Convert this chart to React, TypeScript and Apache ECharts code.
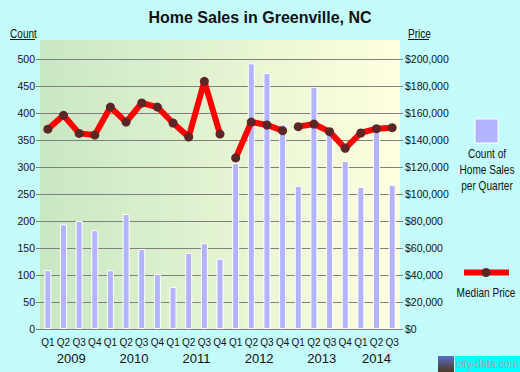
import React, { useEffect, useRef } from "react";
import * as echarts from "echarts";

const quarterLabels = [
  "Q1","Q2","Q3","Q4","Q1","Q2","Q3","Q4","Q1","Q2","Q3","Q4",
  "Q1","Q2","Q3","Q4","Q1","Q2","Q3","Q4","Q1","Q2","Q3",
];
const years = ["2009", "2010", "2011", "2012", "2013", "2014"];
const quartersPerYear = [4, 4, 4, 4, 4, 3];
const salesCount = [
  109, 194, 200, 183, 109, 213, 148, 102, 78, 141, 159, 130,
  307, 492, 474, 379, 265, 448, 362, 311, 263, 368, 267,
];
const medianPrice = [
  148000, 158300, 144900, 143700, 164400, 153300, 167400, 164400, 152600, 142200, 183500, 144400,
  126700, 153300, 151100, 146900, 149900, 151800, 146200, 133800, 145200, 148400, 149100,
];
// price line is broken between these index ranges [start, end)
const priceSegments = [
  [0, 12],
  [12, 16],
  [16, 23],
];
const countTicks = { min: 0, max: 500, interval: 50 };
const priceTicks = { min: 0, max: 200000, interval: 20000 };

const SANS = "'Liberation Sans',Arial,sans-serif";
const SX = 0.84;

function label(text: string, x: number, y: number, align: string = "left", size = 12) {
  return {
    type: "text",
    x,
    y,
    scaleX: SX,
    style: { text, fontSize: size, fontFamily: SANS, fill: "#111", textAlign: align, textVerticalAlign: "middle" },
  };
}

export default function App() {
  const ref = useRef<HTMLDivElement>(null);
  useEffect(() => {
    if (!ref.current) return;
    const chart = echarts.init(ref.current, undefined, { renderer: "svg" });

    // year axis slots: half-quarter positions, with labels at the middle of each year
    const slots: string[] = new Array(quarterLabels.length * 2 + 1).fill("");
    let start = 0;
    years.forEach((y, i) => {
      slots[2 * start + quartersPerYear[i]] = y;
      start += quartersPerYear[i];
    });

    const lineSeries = priceSegments.map(([s, e]) => ({
      type: "line",
      yAxisIndex: 1,
      xAxisIndex: 0,
      data: medianPrice.map((v, i) => (i >= s && i < e ? v : null)),
      connectNulls: false,
      symbol: "circle",
      symbolSize: 9,
      lineStyle: { color: "#FF0000", width: 6 },
      itemStyle: { color: "#5C2626" },
      z: 5,
    }));

    chart.setOption({
      animation: false,
      backgroundColor: "#C4FCFC",
      title: {
        text: "Home Sales in Greenville, NC",
        left: "center",
        top: 4,
        textStyle: { fontSize: 16, fontWeight: "bold", fontFamily: SANS, color: "#111" },
      },
      grid: { left: 40, top: 59, width: 360, height: 270 },
      xAxis: [
        {
          type: "category",
          data: quarterLabels,
          position: "bottom",
          axisLine: { lineStyle: { color: "#808080" } },
          axisTick: { length: 5, lineStyle: { color: "#808080" } },
          axisLabel: { interval: 0, fontSize: 10, color: "#111", margin: 8, fontFamily: SANS },
        },
        {
          type: "category",
          data: slots,
          boundaryGap: false,
          position: "bottom",
          offset: 0,
          axisLine: { show: false },
          axisTick: { show: false },
          splitLine: { show: false },
          axisLabel: { interval: 0, fontSize: 13, color: "#111", margin: 23, fontFamily: SANS },
        },
      ],
      yAxis: [
        {
          type: "value",
          ...countTicks,
          axisLine: { show: false },
          axisTick: { show: true, length: 4, lineStyle: { color: "#808080" } },
          splitLine: { lineStyle: { color: "#808080", width: 1 } },
          axisLabel: { fontSize: 10.5, color: "#111", margin: 5, fontFamily: SANS },
        },
        {
          type: "value",
          ...priceTicks,
          position: "right",
          axisLine: { show: false },
          axisTick: { show: true, length: 3, lineStyle: { color: "#808080" } },
          splitLine: { show: false },
          axisLabel: {
            fontSize: 10.5,
            color: "#111",
            margin: 5,
            fontFamily: SANS,
            formatter: (v: number) => "$" + v.toLocaleString("en-US"),
          },
        },
      ],
      series: [
        {
          type: "bar",
          data: salesCount,
          barWidth: 7,
          itemStyle: { color: "#B3B3FF", borderColor: "#FFFFFF", borderWidth: 1 },
          z: 2,
        },
        ...lineSeries,
      ],
      graphic: [
        {
          type: "rect",
          z: -100,
          silent: true,
          shape: { x: 40, y: 40, width: 360, height: 289 },
          style: {
            fill: new echarts.graphic.LinearGradient(0, 0, 1, 0, [
              { offset: 0, color: "#C8E8C2" },
              { offset: 1, color: "#FFFFE0" },
            ]),
          },
        },
        label("Count", 10, 34),
        { type: "line", shape: { x1: 10, y1: 39.5, x2: 35, y2: 39.5 }, style: { stroke: "#111", lineWidth: 1 } },
        label("Price", 408, 34),
        { type: "line", shape: { x1: 408, y1: 39.5, x2: 429, y2: 39.5 }, style: { stroke: "#111", lineWidth: 1 } },
        {
          type: "rect",
          shape: { x: 475, y: 119, width: 23, height: 24 },
          style: { fill: "#B3B3FF", stroke: "#FFFFFF", lineWidth: 1 },
        },
        label("Count of", 487, 154, "center"),
        label("Home Sales", 487, 170, "center"),
        label("per Quarter", 487, 186, "center"),
        { type: "line", shape: { x1: 464, y1: 272.5, x2: 509, y2: 272.5 }, style: { stroke: "#FF0000", lineWidth: 6 } },
        { type: "circle", shape: { cx: 486, cy: 272.5, r: 4.5 }, style: { fill: "#5C2626" } },
        label("Median Price", 486, 293, "center"),
        {
          type: "rect",
          shape: { x: 438, y: 356, width: 16, height: 16 },
          style: {
            fill: new echarts.graphic.LinearGradient(0, 0, 0, 1, [
              { offset: 0, color: "#5A6CC8" },
              { offset: 1, color: "#4A3A20" },
            ]),
          },
        },
        { type: "rect", shape: { x: 455, y: 356, width: 65, height: 16 }, style: { fill: "#00FFFF" } },
        {
          type: "text",
          x: 456,
          y: 364,
          scaleX: 0.88,
          style: { text: "city-data.com", fontSize: 12, fontFamily: SANS, fill: "#A8A8A8", textVerticalAlign: "middle" },
        },
      ],
    });
    return () => chart.dispose();
  }, []);
  return <div ref={ref} style={{ width: 520, height: 372, position: "absolute", left: 0, top: 0 }} />;
}
